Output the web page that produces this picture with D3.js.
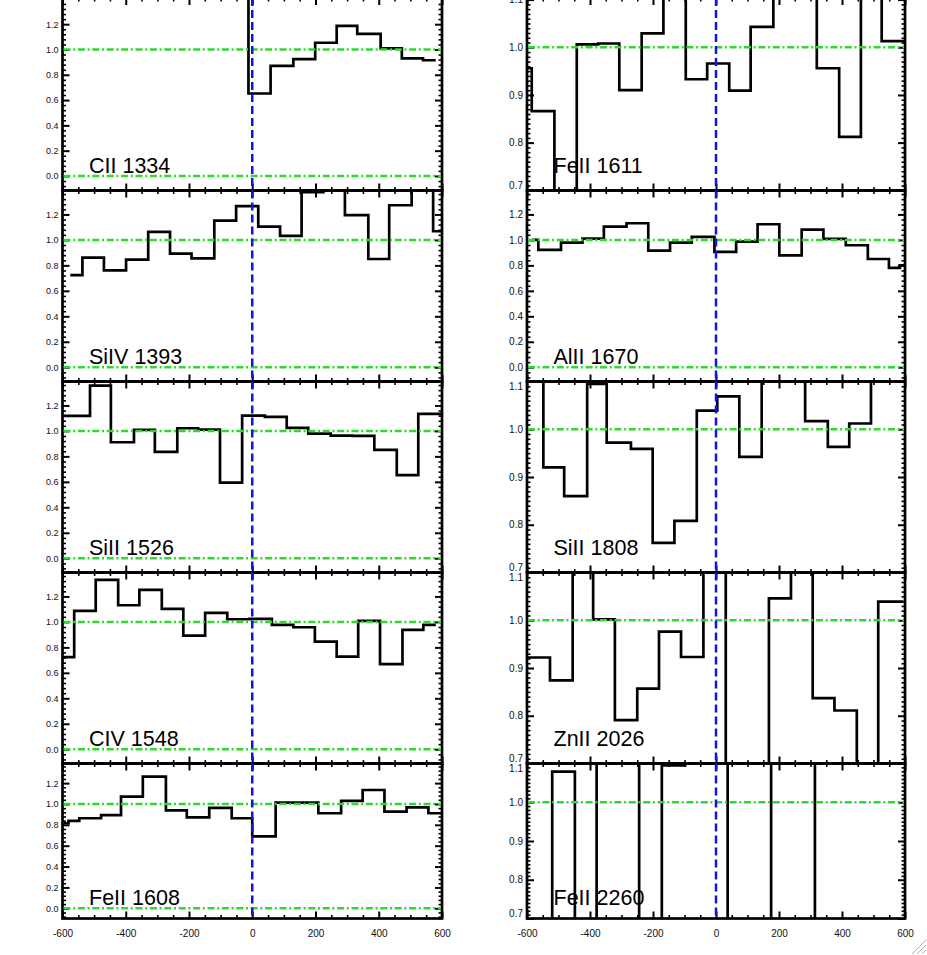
<!DOCTYPE html>
<html>
<head>
<meta charset="utf-8">
<script src="https://cdn.jsdelivr.net/npm/d3@7"></script>
<style>
  body { margin: 0; background: #ffffff; }
  svg { display: block; }
</style>
</head>
<body>
<svg id="chart" width="927" height="955"></svg>
<script>
// ---------------- DATA (bin edges in km/s, normalised flux per bin) ----------------
const velMajorTicks = [-600, -400, -200, 0, 200, 400, 600];
const velMinorTicks = [-550, -500, -450, -350, -300, -250, -150, -100, -50, 50, 100, 150, 250, 300, 350, 450, 500, 550];
const wideFluxTicks = [0.0, 0.2, 0.4, 0.6, 0.8, 1.0, 1.2];
const narrowFluxTicks = [0.7, 0.8, 0.9, 1.0, 1.1];

const lineNames = ["CII 1334", "SiIV 1393", "SiII 1526", "CIV 1548", "FeII 1608",
                   "FeII 1611", "AlII 1670", "SiII 1808", "ZnII 2026", "FeII 2260"];

const cii1334Vel  = [-80, -12, 58, 130, 199, 267, 332, 406, 473, 540, 576];
const cii1334Flux = [1.5, 0.652, 0.871, 0.924, 1.053, 1.187, 1.124, 1.009, 0.929, 0.915];

const siiv1393Vel  = [-571, -537, -469, -399, -329, -260, -192, -120, -51, 19, 88, 156, 225, 293, 367, 433, 504, 572, 596];
const siiv1393Flux = [0.724, 0.861, 0.761, 0.845, 1.063, 0.892, 0.855, 1.152, 1.265, 1.105, 1.031, 1.375, 1.5, 1.194, 0.85, 1.272, 1.5, 1.068];

const sii1526Vel  = [-592, -513, -447, -374, -308, -237, -171, -102, -32, 40, 109, 177, 248, 317, 386, 457, 525, 594];
const sii1526Flux = [1.118, 1.356, 0.911, 1.008, 0.835, 1.021, 1.010, 0.594, 1.120, 1.110, 1.024, 0.979, 0.963, 0.961, 0.851, 0.652, 1.134];

const civ1548Vel  = [-595, -563, -495, -424, -357, -286, -218, -149, -79, -9, 62, 130, 198, 267, 335, 404, 475, 541, 576];
const civ1548Flux = [0.723, 1.086, 1.330, 1.131, 1.251, 1.102, 0.892, 1.071, 1.021, 1.024, 0.976, 0.958, 0.845, 0.727, 1.008, 0.668, 0.937, 0.976];

const feii1608Vel  = [-592, -581, -547, -478, -415, -346, -273, -207, -136, -65, 0, 74, 141, 209, 281, 349, 418, 488, 557, 594];
const feii1608Flux = [0.815, 0.837, 0.863, 0.894, 1.07, 1.262, 0.939, 0.872, 0.962, 0.863, 0.690, 1.012, 1.012, 0.911, 1.029, 1.134, 0.926, 0.968, 0.911];

const feii1611Vel  = [-596, -585, -513, -442, -374, -307, -236, -167, -96, -28, 42, 110, 182, 251, 320, 391, 460, 526, 595];
const feii1611Flux = [0.956, 0.866, 0.6, 1.006, 1.008, 0.910, 1.029, 1.2, 0.933, 0.966, 0.909, 1.043, 1.2, 1.2, 0.956, 0.812, 1.2, 1.013];

const alii1670Vel  = [-580, -564, -492, -424, -356, -284, -215, -146, -77, -5, 64, 132, 201, 272, 341, 412, 482, 549, 584, 595];
const alii1670Flux = [1.0, 0.921, 0.979, 1.010, 1.105, 1.131, 0.916, 0.979, 1.024, 0.906, 0.987, 1.123, 0.879, 1.081, 1.008, 0.958, 0.850, 0.780, 0.80];

const sii1808Vel  = [-596, -548, -482, -409, -347, -270, -201, -132, -61, 4, 74, 145, 214, 283, 355, 423, 492, 543, 595];
const sii1808Flux = [1.2, 0.920, 0.860, 1.095, 0.972, 0.959, 0.762, 0.808, 1.039, 1.069, 0.942, 1.2, 1.2, 1.017, 0.963, 1.012, 1.2, 1.2];

const znii2026Vel  = [-596, -527, -455, -390, -321, -250, -181, -111, -40, 31, 99, 168, 238, 307, 376, 447, 515, 590];
const znii2026Flux = [0.922, 0.874, 1.2, 1.002, 0.791, 0.857, 0.976, 0.923, 1.2, 0.6, 0.6, 1.046, 1.2, 0.837, 0.811, 0.6, 1.039];

const feii2260Vel  = [-596, -520, -448, -379, -311, -244, -172, -98, -31, 37, 106, 175, 244, 314, 383, 452, 521, 590];
const feii2260Flux = [0.6, 1.079, 0.6, 1.2, 1.2, 0.6, 1.095, 1.2, 1.2, 0.6, 0.6, 1.2, 1.2, 0.6, 0.6, 0.6, 0.6];

// ---------------- LAYOUT ----------------
const svg = d3.select("#chart");
const colRanges = [[62.5, 442], [527, 905]];
const rowTops    = [-2, 190.5, 381.5, 572.5, 763.5];
const rowBottoms = [190.5, 381.5, 572.5, 763.5, 918.5];
const wideDomains   = [[-0.115, 1.407], [-0.112, 1.388], [-0.112, 1.388], [-0.112, 1.388], [-0.098, 1.388]];
const narrowDomains = [[0.6996, 1.1034], [0.7, 1.1], [0.7, 1.1], [0.7, 1.1], [0.7, 1.1]];

const panels = [
  {col: 0, row: 0, vel: cii1334Vel,  flux: cii1334Flux,  wide: true},
  {col: 0, row: 1, vel: siiv1393Vel, flux: siiv1393Flux, wide: true},
  {col: 0, row: 2, vel: sii1526Vel,  flux: sii1526Flux,  wide: true},
  {col: 0, row: 3, vel: civ1548Vel,  flux: civ1548Flux,  wide: true},
  {col: 0, row: 4, vel: feii1608Vel, flux: feii1608Flux, wide: true},
  {col: 1, row: 0, vel: feii1611Vel, flux: feii1611Flux, wide: false},
  {col: 1, row: 1, vel: alii1670Vel, flux: alii1670Flux, wide: true},
  {col: 1, row: 2, vel: sii1808Vel,  flux: sii1808Flux,  wide: false},
  {col: 1, row: 3, vel: znii2026Vel, flux: znii2026Flux, wide: false},
  {col: 1, row: 4, vel: feii2260Vel, flux: feii2260Flux, wide: false}
];

const FONT = "'Liberation Sans', Arial, Helvetica, sans-serif";
const GREEN = "#30d830";
const BLUE = "#1414dc";

function styleAxis(g, w) {
  g.select(".domain").remove();
  g.selectAll("line").attr("stroke", "#000").attr("stroke-width", w);
  g.attr("font-family", FONT);
}

panels.forEach((p, i) => {
  const [x0, x1] = colRanges[p.col];
  const top = rowTops[p.row], bottom = rowBottoms[p.row];
  const dom = p.wide ? wideDomains[p.row] : narrowDomains[p.row];
  const x = d3.scaleLinear().domain([-600, 600]).range([x0, x1]);
  const y = d3.scaleLinear().domain(dom).range([bottom, top]);
  const g = svg.append("g");

  const clipId = "clip" + i;
  svg.append("clipPath").attr("id", clipId)
    .append("rect").attr("x", x0).attr("y", top).attr("width", x1 - x0).attr("height", bottom - top);

  const majY = p.wide ? wideFluxTicks : narrowFluxTicks;
  const minY = p.wide
    ? d3.range(-2, 35).filter(k => k % 5 !== 0).map(k => k * 0.04).filter(v => v > dom[0] && v < dom[1])
    : d3.range(70, 111).filter(k => k % 10 !== 0).map(k => k / 100);

  // x axes (bottom & top) – ticks pointing inside
  const isBottomRow = p.row === 4;
  g.append("g").attr("transform", `translate(0,${bottom})`)
    .call(d3.axisBottom(x).tickValues(velMajorTicks).tickSize(-7).tickPadding(11.5)
      .tickFormat(isBottomRow ? (d => String(d)) : () => ""))
    .call(a => styleAxis(a, 2))
    .call(a => a.selectAll("text").attr("font-size", 10).attr("fill", "#111"));
  g.append("g").attr("transform", `translate(0,${bottom})`)
    .call(d3.axisBottom(x).tickValues(velMinorTicks).tickSize(-3.5).tickFormat(() => ""))
    .call(a => styleAxis(a, 1.6));
  g.append("g").attr("transform", `translate(0,${top})`)
    .call(d3.axisTop(x).tickValues(velMajorTicks).tickSize(-7).tickFormat(() => ""))
    .call(a => styleAxis(a, 2));
  g.append("g").attr("transform", `translate(0,${top})`)
    .call(d3.axisTop(x).tickValues(velMinorTicks).tickSize(-3.5).tickFormat(() => ""))
    .call(a => styleAxis(a, 1.6));

  // y axes (left with labels, right mirrored)
  const fs = p.col === 0 ? 9 : 10;
  g.append("g").attr("transform", `translate(${x0},0)`)
    .call(d3.axisLeft(y).tickValues(majY).tickSize(-7).tickPadding(4).tickFormat(d => d.toFixed(1)))
    .call(a => styleAxis(a, 2))
    .call(a => a.selectAll("text").attr("font-size", fs).attr("fill", "#111")
      .attr("dy", d => {
        if (!p.wide && Math.abs(d - 1.1) < 1e-6 && p.row > 0) return "0.8em";
        if (!p.wide && Math.abs(d - 0.7) < 1e-6) return "-0.22em";
        return "0.32em";
      }));
  g.append("g").attr("transform", `translate(${x0},0)`)
    .call(d3.axisLeft(y).tickValues(minY).tickSize(-3.5).tickFormat(() => ""))
    .call(a => styleAxis(a, 1.6));
  g.append("g").attr("transform", `translate(${x1},0)`)
    .call(d3.axisRight(y).tickValues(majY).tickSize(-7).tickFormat(() => ""))
    .call(a => styleAxis(a, 2));
  g.append("g").attr("transform", `translate(${x1},0)`)
    .call(d3.axisRight(y).tickValues(minY).tickSize(-3.5).tickFormat(() => ""))
    .call(a => styleAxis(a, 1.6));

  // frame
  g.append("rect").attr("x", x0).attr("y", top).attr("width", x1 - x0).attr("height", bottom - top)
    .attr("fill", "none").attr("stroke", "#000").attr("stroke-width", 2.7);

  // line label
  g.append("text")
    .attr("x", x0 + 26.5)
    .attr("y", bottom - (p.row === 4 ? 13.5 : 17.5))
    .attr("font-family", FONT).attr("font-size", 21.5).attr("fill", "#000")
    .text(lineNames[i]);

  // histogram (step) spectrum
  const pts = p.flux.map((f, k) => [p.vel[k], f]);
  pts.push([p.vel[p.vel.length - 1], p.flux[p.flux.length - 1]]);
  g.append("path")
    .attr("clip-path", `url(#${clipId})`)
    .attr("d", d3.line().x(d => x(d[0])).y(d => y(d[1])).curve(d3.curveStepAfter)(pts))
    .attr("fill", "none").attr("stroke", "#000").attr("stroke-width", 2.7)
    .attr("stroke-linejoin", "miter").attr("stroke-linecap", "square");

  // continuum / zero lines
  const refLevels = p.wide ? [0, 1] : [1];
  refLevels.forEach(v => {
    g.append("line")
      .attr("x1", x0 + 1).attr("x2", x1 - 1).attr("y1", y(v)).attr("y2", y(v))
      .attr("stroke", GREEN).attr("stroke-width", 2.5)
      .attr("stroke-dasharray", "7,2.7,2,2.7");
  });

  // zero-velocity line
  g.append("line")
    .attr("x1", x(0)).attr("x2", x(0)).attr("y1", top).attr("y2", bottom)
    .attr("stroke", BLUE).attr("stroke-width", 2.5)
    .attr("stroke-dasharray", "8,4");
});

// window resize grip (bottom-right corner)
const grip = svg.append("g").attr("stroke", "#b0b0b0").attr("stroke-width", 1);
[[912, 954, 926, 940], [917, 954, 926, 945], [922, 954, 926, 950]].forEach(c => {
  grip.append("line").attr("x1", c[0]).attr("y1", c[1]).attr("x2", c[2]).attr("y2", c[3]);
});
</script>
</body>
</html>
